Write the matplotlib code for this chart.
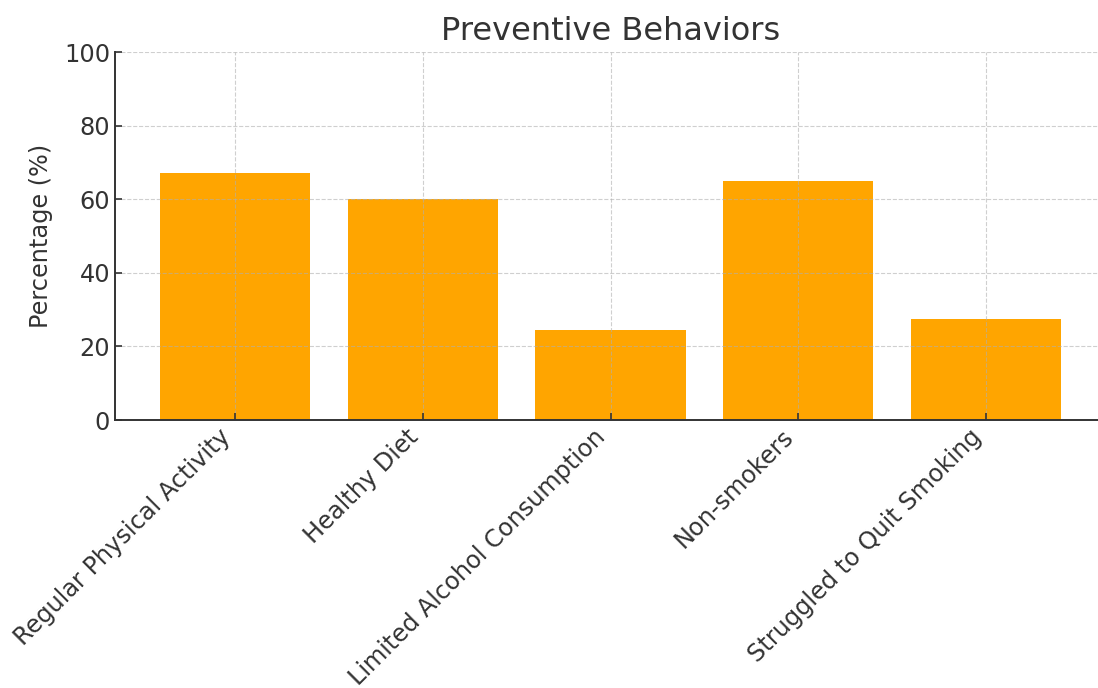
import matplotlib
matplotlib.use("Agg")
import matplotlib.pyplot as plt

# data
behaviors = ["Regular Physical Activity", "Healthy Diet", "Limited Alcohol Consumption",
             "Non-smokers", "Struggled to Quit Smoking"]
percentages = [67, 60, 24.4, 65, 27.4]

txt = "#333333"
plt.rcParams['font.family'] = ['DejaVu Sans']

fig = plt.figure(figsize=(10.98, 6.88), dpi=100)
ax = fig.add_axes([115 / 1098, 268 / 688, 991 / 1098, 368 / 688])

ax.bar(behaviors, percentages, color="orange", width=0.8)

ax.set_ylim(0, 100)
ax.set_title("Preventive Behaviors", fontsize=23, color=txt, pad=9)
ax.set_ylabel("Percentage (%)", fontsize=17.3, color=txt, labelpad=8)
ax.grid(True, linestyle="--", alpha=0.6)

ax.spines["top"].set_visible(False)
ax.spines["right"].set_visible(False)
for s in ["left", "bottom"]:
    ax.spines[s].set_color(txt)
    ax.spines[s].set_linewidth(1.4)

ax.tick_params(axis="both", direction="in", length=5, width=1.2, color=txt,
               labelsize=17.3, labelcolor=txt)
plt.setp(ax.get_xticklabels(), rotation=45, ha="right")

fig.savefig("out.png", dpi=100)
